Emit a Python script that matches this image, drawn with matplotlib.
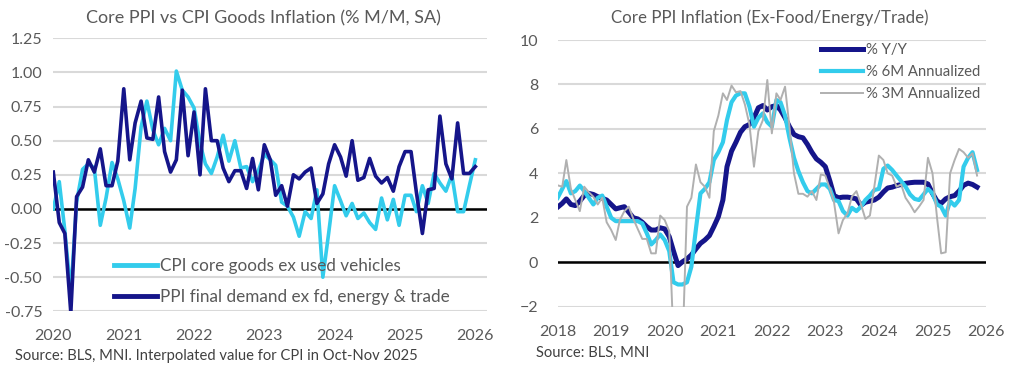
import numpy as np
import pandas as pd
import matplotlib
matplotlib.use("Agg")
import matplotlib.pyplot as plt
import matplotlib.dates as mdates

# ---------------- data ----------------
# Left chart: monthly % M/M, Jan 2020 onwards
cpi_core_goods = [0.00, 0.20, -0.16, -0.62, 0.05, 0.29, 0.33, 0.30, -0.12, 0.08, 0.34, 0.22,
                  0.06, -0.14, 0.15, 0.60, 0.79, 0.58, 0.47, 0.59, 0.50, 1.01, 0.87, 0.82,
                  0.74, 0.48, 0.33, 0.26, 0.38, 0.54, 0.35, 0.50, 0.30, 0.31, 0.20, 0.28,
                  0.40, 0.36, 0.32, 0.05, 0.02, -0.06, -0.20, -0.02, -0.07, 0.14, -0.50, -0.18,
                  0.17, 0.06, -0.05, 0.04, -0.07, -0.03, -0.10, -0.15, 0.08, -0.08, 0.07, -0.12,
                  0.10, 0.10, -0.02, 0.17, 0.04, 0.26, 0.19, 0.13, 0.25, -0.02, -0.02, 0.17,
                  0.36]
ppi_core = [0.27, -0.10, -0.18, -0.76, 0.09, 0.16, 0.36, 0.27, 0.44, 0.17, 0.17, 0.35,
            0.88, 0.36, 0.63, 0.79, 0.52, 0.51, 0.82, 0.42, 0.27, 0.36, 0.87, 0.39,
            0.71, 0.25, 0.88, 0.50, 0.50, 0.30, 0.20, 0.28, 0.28, 0.15, 0.37, 0.14,
            0.47, 0.36, 0.10, 0.17, 0.02, 0.25, 0.22, 0.27, 0.30, 0.04, 0.11, 0.33,
            0.47, 0.38, 0.24, 0.50, 0.21, 0.23, 0.37, 0.24, 0.19, 0.23, 0.13, 0.31,
            0.42, 0.42, 0.12, -0.18, 0.14, 0.15, 0.68, 0.33, 0.22, 0.63, 0.26, 0.26,
            0.31]
left_start = "2020-01-01"
left_years = ["2020", "2021", "2022", "2023", "2024", "2025", "2026"]
left_yticks = [1.25, 1.00, 0.75, 0.50, 0.25, 0.00, -0.25, -0.50, -0.75]
left_labels = ["CPI core goods ex used vehicles", "PPI final demand ex fd, energy & trade"]

# Right chart: monthly, Jan 2018 onwards
ppi_yy = [2.48, 2.65, 2.85, 2.60, 2.55, 2.75, 3.00, 3.10, 3.05, 2.95, 2.88, 2.80,
          2.60, 2.40, 2.45, 2.50, 2.25, 2.00, 1.95, 1.80, 1.60, 1.45, 1.45, 1.55,
          1.50, 1.15, 0.50, -0.15, 0.02, 0.15, 0.33, 0.60, 0.85, 1.00, 1.20, 1.60,
          2.05, 2.80, 4.30, 5.00, 5.40, 5.85, 6.10, 6.20, 6.50, 6.95, 7.05, 6.85,
          7.00, 7.05, 6.85, 6.50, 6.10, 5.75, 5.65, 5.60, 5.30, 4.95, 4.65, 4.50,
          4.30, 3.65, 3.00, 2.90, 2.93, 2.93, 2.90, 2.85, 2.56, 2.70, 2.75, 2.80,
          2.93, 3.16, 3.34, 3.38, 3.45, 3.50, 3.55, 3.58, 3.60, 3.60, 3.60, 3.52,
          3.10, 2.75, 2.65, 2.85, 2.95, 3.00, 3.20, 3.46, 3.56, 3.50, 3.38]
ppi_6m = [2.90, 3.30, 3.65, 3.10, 3.20, 3.45, 3.20, 2.90, 2.60, 2.90, 3.00, 2.50,
          2.00, 1.85, 1.85, 1.85, 1.85, 1.85, 1.85, 1.75, 1.30, 0.80, 1.00, 1.25,
          1.00, 0.50, -0.90, -1.00, -1.00, -0.90, -0.20, 1.50, 3.10, 3.30, 3.60, 4.60,
          4.95, 5.40, 6.40, 7.20, 7.50, 7.60, 7.60, 7.00, 6.10, 6.50, 6.70, 6.30,
          6.10, 7.30, 7.20, 6.60, 5.60, 4.70, 4.10, 3.60, 3.20, 3.10, 3.30, 3.50,
          3.50, 3.30, 2.80, 2.75, 2.30, 2.10, 2.45, 2.30, 2.50, 2.80, 3.00, 3.25,
          3.30, 4.20, 4.35, 4.15, 3.90, 3.65, 3.40, 3.05, 2.85, 2.80, 3.05, 3.30,
          3.10, 2.60, 2.50, 2.10, 2.75, 2.55, 2.80, 4.30, 4.70, 4.95, 4.15]
ppi_3m = [3.46, 3.40, 4.60, 3.30, 2.80, 2.30, 3.40, 3.15, 2.95, 2.60, 2.90, 1.80,
          1.45, 1.00, 1.90, 2.30, 2.50, 1.95, 1.50, 1.05, 1.05, 0.40, 0.40, 2.10,
          1.90, 1.40, -3.50, -6.00, -4.00, 2.50, 2.90, 4.40, 3.60, 3.40, 2.90, 5.90,
          6.60, 7.60, 7.30, 7.95, 7.65, 7.70, 7.10, 6.20, 4.30, 5.90, 6.40, 8.20,
          5.80, 7.60, 7.30, 7.90, 6.10, 4.00, 3.08, 3.08, 2.95, 3.20, 2.80, 3.95,
          3.90, 3.30, 2.70, 1.30, 1.90, 2.20, 2.95, 3.20, 2.60, 1.95, 2.10, 3.40,
          4.80, 4.60, 4.00, 3.90, 3.40, 3.50, 2.90, 2.60, 2.25, 2.50, 2.80, 4.70,
          4.00, 2.00, 0.40, 0.45, 4.00, 4.60, 5.10, 4.95, 4.70, 4.90, 3.90]
right_start = "2018-01-01"
right_years = ["2018", "2019", "2020", "2021", "2022", "2023", "2024", "2025", "2026"]
right_yticks = [10, 8, 6, 4, 2, 0, -2]
right_labels = ["% Y/Y", "% 6M Annualized", "% 3M Annualized"]

# ---------------- style ----------------
W, H = 1015, 374
FONT = "Lato"
TXT = "#595959"
GRID = "#d9d9d9"
NAVY = "#15158a"
CYAN = "#33ccec"
GRAY = "#b0b0b0"

plt.rcParams["font.family"] = [FONT, "DejaVu Sans"]

fig = plt.figure(figsize=(W / 100, H / 100), dpi=100)


def fx(x):
    return x / W


def fy(y):
    return 1 - y / H


def style_axes(ax, yticks, ylim, years, xlim_dates, ypad):
    ax.set_ylim(*ylim)
    ax.set_yticks(yticks)
    ax.set_xlim(*xlim_dates)
    ax.set_xticks([pd.Timestamp(f"{y}-01-01") for y in years])
    ax.set_xticklabels(years)
    ax.grid(axis="y", color=GRID, linewidth=1.5, zorder=0)
    ax.grid(axis="x", visible=False)
    for s in ax.spines.values():
        s.set_visible(False)
    ax.tick_params(axis="both", length=0, labelsize=11.5, colors=TXT)
    ax.tick_params(axis="y", pad=ypad)
    ax.tick_params(axis="x", pad=13)
    ax.axhline(0, color="black", linewidth=1.8, zorder=2)
    ax.set_axisbelow(True)


# ---------------- left chart ----------------
axL = fig.add_axes([fx(53.3), fy(311.3), fx(486.7 - 53.3), (311.3 - 38.3) / H])
dL = pd.date_range(left_start, periods=len(ppi_core), freq="MS")
style_axes(axL, left_yticks, (-0.75, 1.25), left_years,
           (pd.Timestamp("2020-01-01"), pd.Timestamp("2026-03-01")), 8)
axL.set_yticklabels([f"{v:.2f}" for v in left_yticks])
axL.plot(dL, cpi_core_goods, color=CYAN, linewidth=2.6, label=left_labels[0], zorder=3)
axL.plot(dL, ppi_core, color=NAVY, linewidth=2.6, label=left_labels[1], zorder=4)
legL = axL.legend(loc="upper left", bbox_to_anchor=(fx(114), fy(258)),
                  bbox_transform=fig.transFigure, frameon=False, fontsize=12.3,
                  handlelength=2.5, handletextpad=0.2, labelspacing=0.9,
                  borderpad=0, borderaxespad=0)
for t in legL.get_texts():
    t.set_color(TXT)
for l in legL.get_lines():
    l.set_linewidth(3.5)

fig.text(fx(263), fy(18), "Core PPI vs CPI Goods Inflation (% M/M, SA)", ha="center",
         va="center", fontsize=13, color=TXT)
fig.text(fx(15), fy(356), "Source: BLS, MNI. Interpolated value for CPI in Oct-Nov 2025",
         ha="left", va="center", fontsize=10.6, color="#404040")

# ---------------- right chart ----------------
axR = fig.add_axes([fx(557.7), fy(306.7), fx(986 - 557.7), (306.7 - 40) / H])
dR = pd.date_range(right_start, periods=len(ppi_yy), freq="MS")
style_axes(axR, right_yticks, (-2, 10), right_years,
           (pd.Timestamp("2018-01-01"), pd.Timestamp("2026-01-01")), 14)
axR.plot(dR, ppi_yy, color=NAVY, linewidth=3.6, label=right_labels[0], zorder=3)
axR.plot(dR, ppi_6m, color=CYAN, linewidth=3.0, label=right_labels[1], zorder=4)
axR.plot(dR, ppi_3m, color=GRAY, linewidth=1.4, label=right_labels[2], zorder=5)
legR = axR.legend(loc="upper left", bbox_to_anchor=(fx(821), fy(43)),
                  bbox_transform=fig.transFigure, frameon=False, fontsize=10.7,
                  handlelength=2.8, handletextpad=0.25, labelspacing=0.55,
                  borderpad=0, borderaxespad=0)
for t in legR.get_texts():
    t.set_color(TXT)

fig.text(fx(770), fy(18), "Core PPI Inflation (Ex-Food/Energy/Trade)", ha="center",
         va="center", fontsize=12.2, color=TXT)
fig.text(fx(536), fy(353), "Source: BLS, MNI", ha="left", va="center",
         fontsize=10.6, color="#404040")

fig.savefig("out.png", dpi=100)
